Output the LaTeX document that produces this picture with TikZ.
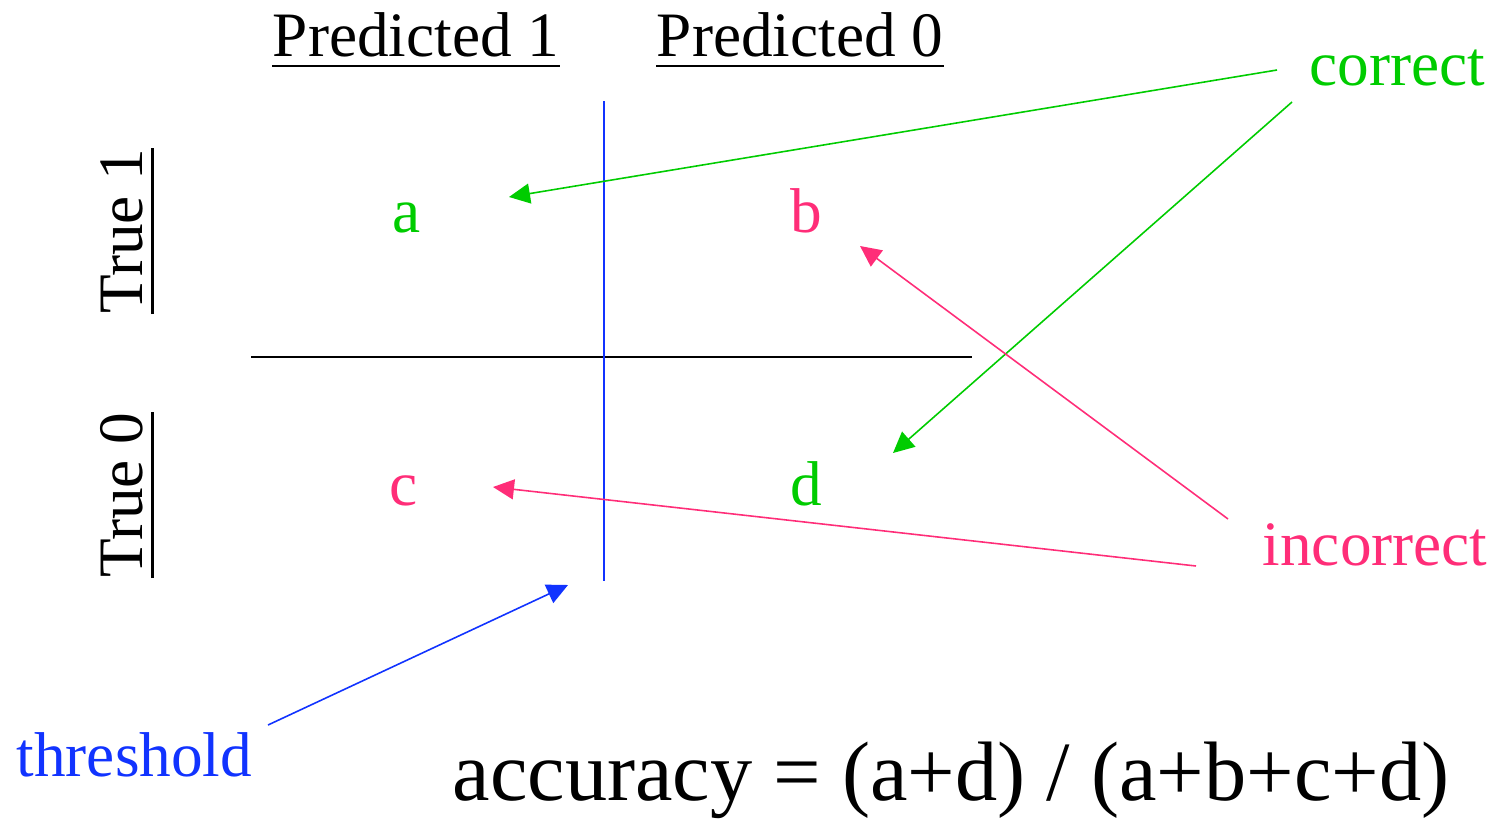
\documentclass[tikz,border=0pt]{standalone}
\usepackage{fontspec}
\setmainfont{Liberation Serif}
\usepackage{xcolor}
\definecolor{okgreen}{RGB}{0,204,0}
\definecolor{badpink}{RGB}{255,45,120}
\definecolor{thrblue}{RGB}{17,51,255}
\usetikzlibrary{arrows.meta}

\begin{document}
\begin{tikzpicture}[
      lbl/.style={inner sep=0pt, anchor=base, font=\fontsize{18}{22}\selectfont},
      head/.style={lbl},
      side/.style={lbl, rotate=90},
      uline/.style={line width=0.85pt},
      grid/.style={line width=0.6pt},
      arr/.style={-{Triangle[length=2.1mm, width=2mm]}, line width=0.45pt}
  ]
    \useasboundingbox (0,0) rectangle (14.96,8.19);

    % column and row headers
    \node[head] (p1) at (4.16,7.62) {Predicted 1};
    \node[head] (p0) at (8.00,7.62) {Predicted 0};
    \node[side] (t1) at (1.42,5.88) {True 1};
    \node[side] (t0) at (1.42,3.24) {True 0};
    \draw[uline] ([yshift=-0.09cm]p1.base west) -- ([yshift=-0.09cm]p1.base east);
    \draw[uline] ([yshift=-0.09cm]p0.base west) -- ([yshift=-0.09cm]p0.base east);
    \draw[uline] ([xshift=0.105cm]t1.base west) -- ([xshift=0.105cm]t1.base east);
    \draw[uline] ([xshift=0.105cm]t0.base west) -- ([xshift=0.105cm]t0.base east);

    % the four cells
    \node[lbl, text=okgreen] (a) at (4.07,5.87) {a};
    \node[lbl, text=badpink] (b) at (8.06,5.87) {b};
    \node[lbl, text=badpink] (c) at (4.04,3.14) {c};
    \node[lbl, text=okgreen] (d) at (8.06,3.14) {d};

    \coordinate (hl) at (2.51,4.62);
    \coordinate (hr) at (9.72,4.62);
    \coordinate (vtop) at (6.04,7.18);
    \coordinate (vbot) at (6.04,2.38);
    \draw[grid] (hl) -- (hr);
    \draw[grid, thrblue] (vtop) -- (vbot);

    % side labels
    \node[lbl, anchor=base west, text=okgreen] (correct) at (13.09,7.34) {correct};
    \node[lbl, anchor=base west, text=badpink] (incorrect) at (12.62,2.54) {incorrect};
    \node[lbl, anchor=base west, text=thrblue] (thresh) at (0.16,0.43) {threshold};
    \node[inner sep=0pt, anchor=base, font=\fontsize{24}{29}\selectfont] (acc) at (9.51,0.19)
      {accuracy = (a+d) / (a+b+c+d)};

    \draw[arr, okgreen] ([shift={(-0.32,0.15)}]correct.base west) -- ([shift={(1.02,0.35)}]a.base);
    \draw[arr, okgreen] ([shift={(-0.17,-0.17)}]correct.base west) -- ([shift={(0.87,0.52)}]d.base);
    \draw[arr, badpink] ([shift={(-0.34,0.46)}]incorrect.base west) -- ([shift={(0.54,-0.14)}]b.base);
    \draw[arr, badpink] ([shift={(-0.66,-0.01)}]incorrect.base west) -- ([shift={(0.89,0.18)}]c.base);
    \draw[arr, thrblue] ([shift={(2.52,0.51)}]thresh.base west) -- ([shift={(-0.36,-0.04)}]vbot);
\end{tikzpicture}
\end{document}
